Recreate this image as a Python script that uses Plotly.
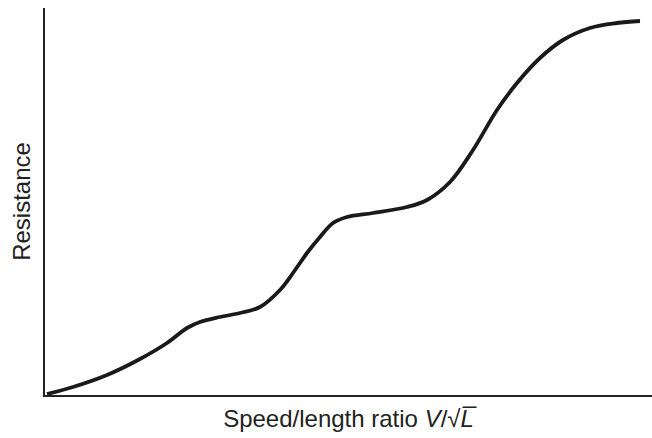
import plotly.graph_objects as go

# Resistance curve (arbitrary units)
speed_ratio = [2, 28, 62, 95, 122, 142, 155, 175, 195, 215, 235, 248, 262, 275,
               288, 302, 328, 362, 382, 405, 428, 452, 472, 495, 518, 545, 572, 595]
resistance = [1, 8, 20, 36, 52, 67, 73, 78, 82, 88, 105, 122, 142, 158,
              172, 178, 182, 188, 195, 213, 245, 285, 312, 337, 355, 367, 372, 374]

x_title = "Speed/length ratio <i>V</i>/√<i>L\u0305</i>"
y_title = "Resistance"

fig = go.Figure()
fig.add_trace(go.Scatter(
    x=speed_ratio, y=resistance, mode="lines",
    line=dict(color="#1a1a1a", width=3.8, shape="spline", smoothing=1.0),
    showlegend=False, hoverinfo="skip",
))

font = dict(family="Liberation Sans, Arial, sans-serif", size=24, color="#222222")

fig.update_layout(
    width=652, height=438,
    margin=dict(l=45, r=0, t=8, b=43),
    paper_bgcolor="white", plot_bgcolor="white",
    font=font,
)
fig.update_xaxes(
    range=[0, 607], showgrid=False, zeroline=False, showticklabels=False,
    ticks="", showline=True, linecolor="#222222", linewidth=2, automargin=False,
    title=dict(text=x_title, font=font, standoff=14),
)
fig.update_yaxes(
    range=[0, 387], showgrid=False, zeroline=False, showticklabels=False,
    ticks="", showline=True, linecolor="#222222", linewidth=2, automargin=False,
    title=dict(text=y_title, font=font, standoff=6),
)

fig.write_html("out.html", config={"displayModeBar": False},
               post_script="document.body.style.margin='0px';")
